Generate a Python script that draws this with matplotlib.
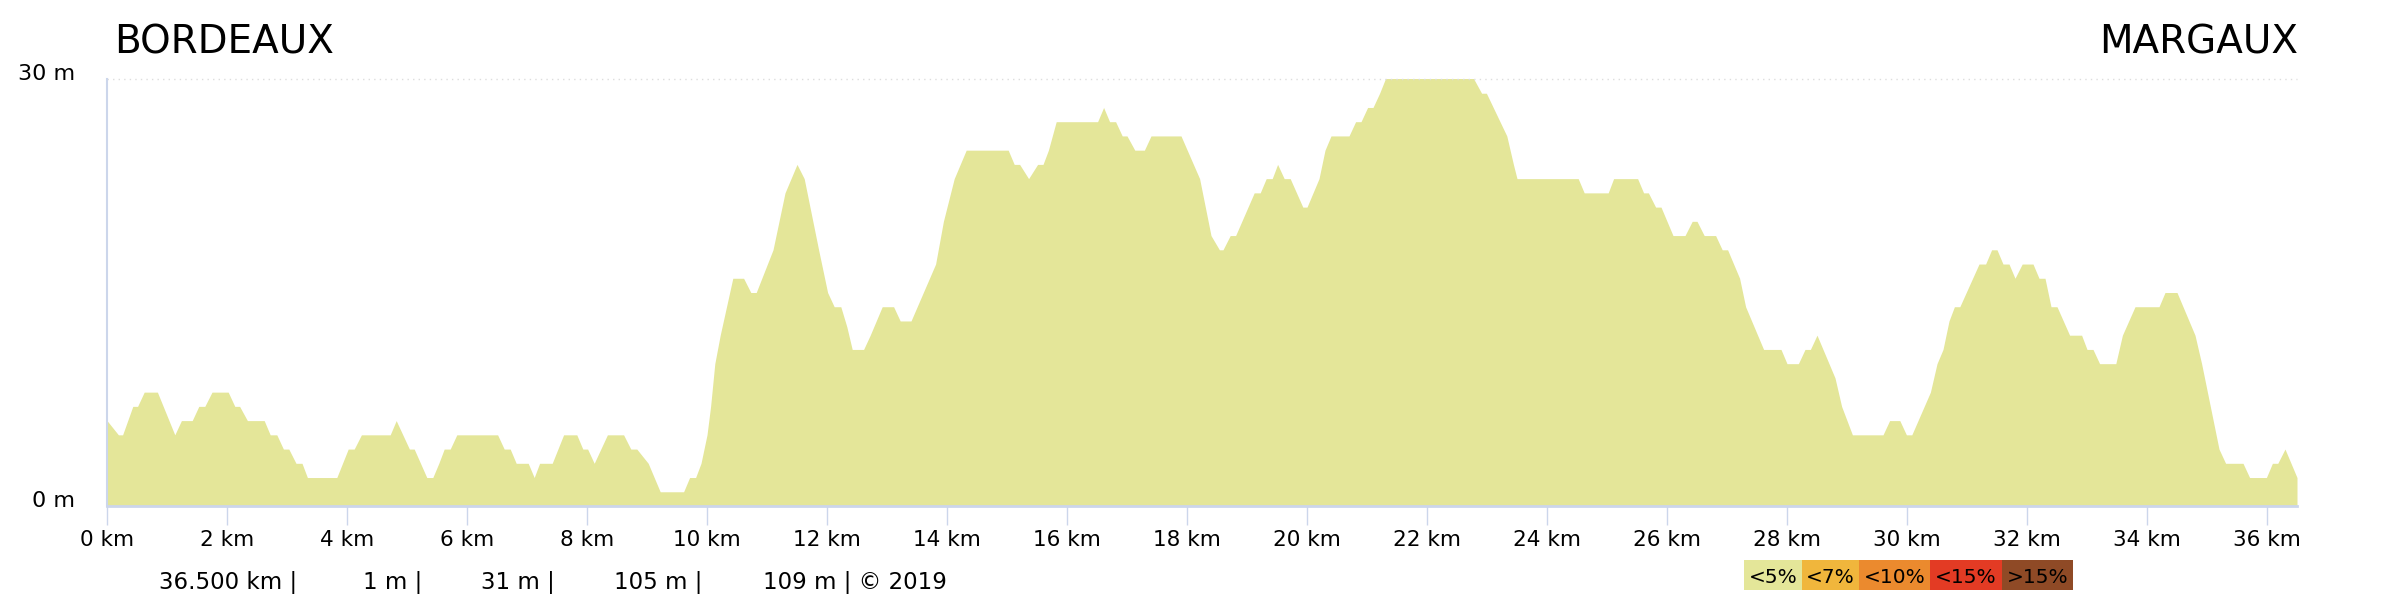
import matplotlib
matplotlib.use("Agg")
import matplotlib.pyplot as plt
from matplotlib.patches import Rectangle

# elevation profile (km, m)
dist_km = [0.0, 0.19, 0.26, 0.43, 0.51, 0.62, 0.84, 1.13, 1.24, 1.42, 1.53, 1.63, 1.75, 2.02,
           2.13, 2.21, 2.34, 2.62, 2.72, 2.83, 2.94, 3.03, 3.15, 3.25, 3.34, 3.83, 4.02, 4.12,
           4.24, 4.72, 4.82, 5.04, 5.12, 5.33, 5.43, 5.53, 5.62, 5.72, 5.83, 6.51, 6.62, 6.72,
           6.82, 7.02, 7.12, 7.21, 7.42, 7.61, 7.83, 7.93, 8.01, 8.12, 8.34, 8.61, 8.73, 8.83,
           9.02, 9.22, 9.61, 9.71, 9.81, 9.90, 10.0, 10.06, 10.13, 10.22, 10.43, 10.61, 10.73,
           10.82, 11.10, 11.30, 11.50, 11.62, 11.86, 12.01, 12.12, 12.23, 12.33, 12.42, 12.61,
           12.72, 12.92, 13.11, 13.22, 13.40, 13.81, 13.94, 14.12, 14.32, 15.02, 15.12, 15.21,
           15.36, 15.51, 15.60, 15.69, 15.82, 16.51, 16.61, 16.71, 16.81, 16.92, 17.00, 17.13,
           17.29, 17.40, 17.90, 18.21, 18.40, 18.54, 18.60, 18.72, 18.81, 19.12, 19.22, 19.32,
           19.42, 19.51, 19.62, 19.72, 19.93, 20.00, 20.20, 20.30, 20.40, 20.70, 20.81, 20.90,
           21.01, 21.10, 21.21, 21.40, 22.65, 22.91, 22.99, 23.33, 23.44, 23.50, 24.52, 24.62,
           25.02, 25.11, 25.51, 25.61, 25.69, 25.81, 25.90, 26.10, 26.30, 26.42, 26.50, 26.62,
           26.81, 26.92, 27.01, 27.21, 27.31, 27.61, 27.90, 28.00, 28.19, 28.30, 28.39, 28.50,
           28.80, 28.91, 29.09, 29.60, 29.71, 29.88, 29.99, 30.08, 30.39, 30.50, 30.60, 30.70,
           30.79, 30.88, 31.20, 31.31, 31.41, 31.50, 31.60, 31.70, 31.80, 31.92, 32.10, 32.20,
           32.30, 32.40, 32.50, 32.71, 32.91, 33.00, 33.10, 33.21, 33.48, 33.59, 33.80, 34.20,
           34.30, 34.50, 34.80, 34.91, 35.20, 35.31, 35.60, 35.71, 35.99, 36.09, 36.18, 36.30,
           36.50]
elev_m = [6, 5, 5, 7, 7, 8, 8, 5, 6, 6, 7, 7, 8, 8,
          7, 7, 6, 6, 5, 5, 4, 4, 3, 3, 2, 2, 4, 4,
          5, 5, 6, 4, 4, 2, 2, 3, 4, 4, 5, 5, 4, 4,
          3, 3, 2, 3, 3, 5, 5, 4, 4, 3, 5, 5, 4, 4,
          3, 1, 1, 2, 2, 3, 5, 7, 10, 12, 16, 16, 15,
          15, 18, 22, 24, 23, 18, 15, 14, 14, 12.6, 11, 11,
          12, 14, 14, 13, 13, 17, 20, 23, 25, 25, 24, 24,
          23, 24, 24, 25, 27, 27, 28, 27, 27, 26, 26, 25,
          25, 26, 26, 23, 19, 18, 18, 19, 19, 22, 22, 23,
          23, 24, 23, 23, 21, 21, 23, 25, 26, 26, 27, 27,
          28, 28, 29, 31, 31, 29, 29, 26, 24, 23, 23, 22,
          22, 23, 23, 22, 22, 21, 21, 19, 19, 20, 20, 19,
          19, 18, 18, 16, 14, 11, 11, 10, 10, 11, 11, 12,
          9, 7, 5, 5, 6, 6, 5, 5, 8, 10, 11, 13,
          14, 14, 17, 17, 18, 18, 17, 17, 16, 17, 17, 16,
          16, 14, 14, 12, 12, 11, 11, 10, 10, 12, 14, 14,
          15, 15, 12, 10, 4, 3, 3, 2, 2, 3, 3, 4,
          2]

tick_km = list(range(0, 37, 2))
tick_labels = [f"{k} km" for k in tick_km]
y_marks = [0, 30]
y_labels = ["0 m", "30 m"]

stats = ["36.500 km |", "1 m |", "31 m |", "105 m |", "109 m | © 2019"]
stats_x = [159, 363, 481, 614, 763]

grade_labels = ["<5%", "<7%", "<10%", "<15%", ">15%"]
grade_colors = ["#e4e699", "#f0b63c", "#eb8a2e", "#e33b24", "#8f4a26"]
grade_edges = [1744, 1802, 1859, 1930, 2002, 2073]

W, H = 2400, 600
fill_col = "#e4e699"
axis_col = "#ccd6eb"

fig = plt.figure(figsize=(24, 6), dpi=100)
ax = fig.add_axes([107 / W, 94 / H, (2297 - 107) / W, 427 / H])

ax.fill_between(dist_km, elev_m, 0, color=fill_col, lw=0)
ax.set_xlim(0, 36.5)
ax.set_ylim(0, 30)

for s in ["top", "right"]:
    ax.spines[s].set_visible(False)
ax.spines["left"].set_color(axis_col)
ax.spines["left"].set_linewidth(1.5)
ax.spines["bottom"].set_color(axis_col)
ax.spines["bottom"].set_linewidth(2)

ax.axhline(30, color="#dddddd", lw=1, ls=(0, (1, 3)), clip_on=False)

ax.set_xticks(tick_km)
ax.set_xticklabels(tick_labels, fontsize=15.5)
ax.tick_params(axis="x", length=14, width=1, color=axis_col, pad=3)
ax.set_yticks([])

for v, lab in zip(y_marks, y_labels):
    ax.annotate(lab, xy=(0, v), xycoords=("axes fraction", "data"),
                xytext=(-23, 3.6), textcoords="offset points",
                ha="right", va="center", fontsize=16)

fig.text(114 / W, (H - 53) / H, "BORDEAUX", fontsize=28, va="baseline", ha="left")
fig.text(2298 / W, (H - 53) / H, "MARGAUX", fontsize=28, va="baseline", ha="right")

for x, s in zip(stats_x, stats):
    fig.text(x / W, (H - 589) / H, s, fontsize=16.5, va="baseline", ha="left")

for i, (lab, col) in enumerate(zip(grade_labels, grade_colors)):
    x0, x1 = grade_edges[i], grade_edges[i + 1]
    fig.add_artist(Rectangle((x0 / W, 10 / H), (x1 - x0) / W, 30 / H,
                             transform=fig.transFigure, color=col, lw=0))
    fig.text((x0 + x1) / 2 / W, (H - 583) / H, lab, fontsize=14.5,
             ha="center", va="baseline")

fig.savefig("out.png", dpi=100)
